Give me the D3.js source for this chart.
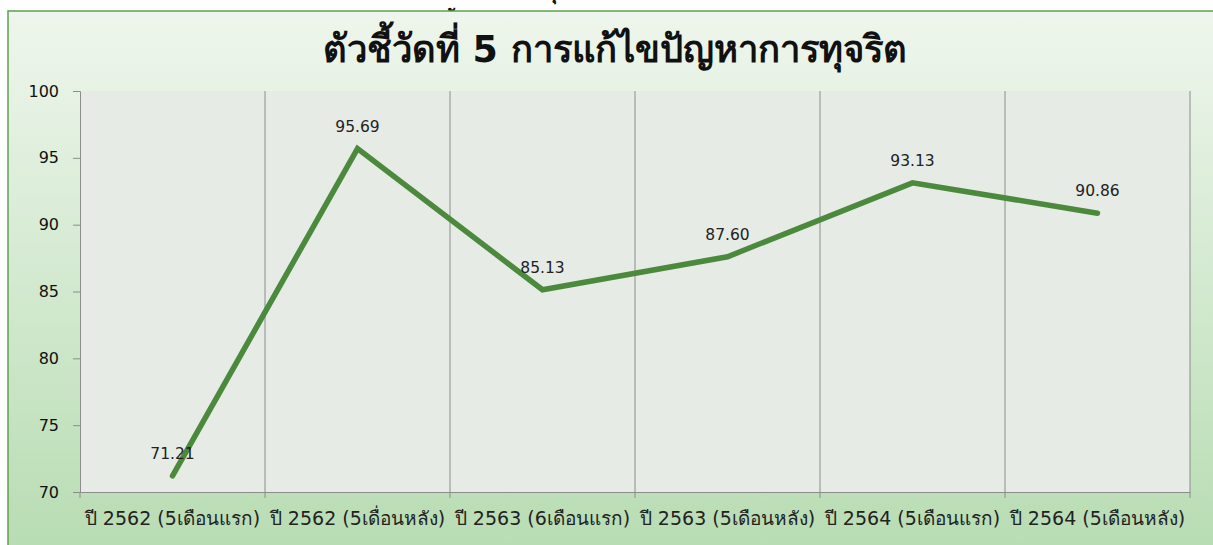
<!DOCTYPE html>
<html><head><meta charset="utf-8">
<script src="https://cdn.jsdelivr.net/npm/d3@7"></script>
<style>html,body{margin:0;padding:0;background:#fff;}svg{display:block;}</style>
</head><body>
<svg id="c" width="1213" height="545"></svg>
<script>
const title = "ตัวชี้วัดที่ 5 การแก้ไขปัญหาการทุจริต";
const categories = ["ปี 2562 (5เดือนแรก)","ปี 2562 (5เดื่อนหลัง)","ปี 2563 (6เดือนแรก)","ปี 2563 (5เดือนหลัง)","ปี 2564 (5เดือนแรก)","ปี 2564 (5เดือนหลัง)"];
const values = [71.21, 95.69, 85.13, 87.60, 93.13, 90.86];
const yTicks = [70, 75, 80, 85, 90, 95, 100];

(function(){
const svg = d3.select("#c");
const defs = svg.append("defs");
const g = defs.append("linearGradient").attr("id","bg").attr("x1",0).attr("y1",0).attr("x2",0).attr("y2",1);
g.append("stop").attr("offset","0%").attr("stop-color","#eff6ed");
g.append("stop").attr("offset","100%").attr("stop-color","#b7dcb2");

// cut-off line of text above the chart (only its marks show)
svg.append("text").attr("x",449).attr("y",22).attr("text-anchor","middle").attr("font-family","Tahoma, 'DejaVu Sans', sans-serif").attr("font-size",18).attr("font-weight","bold").attr("fill","#111").text("ตั");
svg.append("text").attr("x",551).attr("y",-1).attr("text-anchor","middle").attr("font-family","Tahoma, 'DejaVu Sans', sans-serif").attr("font-size",18).attr("font-weight","bold").attr("fill","#111").text("ทุ");

svg.append("rect").attr("x",8).attr("y",11).attr("width",1213).attr("height",545).attr("fill","url(#bg)").attr("stroke","#5e9e50").attr("stroke-width",1.5);

const pl=80, pr=1190, pt=91, pb=492;
const x = d3.scaleBand().domain(categories).range([pl,pr]);
const y = d3.scaleLinear().domain([70,100]).range([pb,pt]);

svg.append("rect").attr("x",pl).attr("y",pt).attr("width",pr-pl).attr("height",pb-pt).attr("fill","#e6ebe6");

const bounds = categories.map(c=>x(c)).concat([pr]);
svg.append("g").selectAll("line").data(bounds.slice(1)).join("line")
  .attr("x1",d=>d).attr("x2",d=>d).attr("y1",pt).attr("y2",pb)
  .attr("stroke","#8c8c8c").attr("stroke-width",1);

const ya = d3.axisLeft(y).tickValues(yTicks).tickSize(7).tickPadding(14);
const yg = svg.append("g").attr("transform",`translate(${pl},0)`).call(ya);
yg.select(".domain").attr("stroke","#8c8c8c");
yg.selectAll(".tick line").attr("stroke","#8c8c8c");
yg.selectAll("text").attr("font-family","'DejaVu Sans', Tahoma, sans-serif").attr("font-size",16).attr("fill","#111");

const xa = d3.axisBottom(x).tickSize(0).tickPadding(20);
const xg = svg.append("g").attr("transform",`translate(0,${pb})`).call(xa);
xg.select(".domain").attr("stroke","#8c8c8c");
xg.selectAll("text").attr("font-family","Tahoma, 'DejaVu Sans', sans-serif").attr("font-size",19).attr("fill","#222");
svg.append("g").selectAll("line").data(bounds).join("line")
  .attr("x1",d=>d).attr("x2",d=>d).attr("y1",pb).attr("y2",pb+6)
  .attr("stroke","#8c8c8c");

const cx = c => x(c)+x.bandwidth()/2;
const line = d3.line().x((d,i)=>cx(categories[i])).y(d=>y(d));
svg.append("path").datum(values).attr("d",line).attr("fill","none")
  .attr("stroke","#4b8a3d").attr("stroke-width",5.5).attr("stroke-linejoin","miter").attr("stroke-linecap","round");

svg.append("g").selectAll("text").data(values).join("text")
  .attr("x",(d,i)=>cx(categories[i])).attr("y",d=>y(d)-17)
  .attr("text-anchor","middle").attr("font-family","'DejaVu Sans', Tahoma, sans-serif").attr("font-size",15.5).attr("fill","#222")
  .text(d=>d.toFixed(2));

svg.append("text").attr("x",615).attr("y",62).attr("text-anchor","middle")
  .attr("font-family","Tahoma, 'DejaVu Sans', sans-serif").attr("font-size",38).attr("font-weight","bold").attr("fill","#111")
  .attr("textLength",584).attr("lengthAdjust","spacingAndGlyphs")
  .text(title);
})();
</script>
</body></html>
